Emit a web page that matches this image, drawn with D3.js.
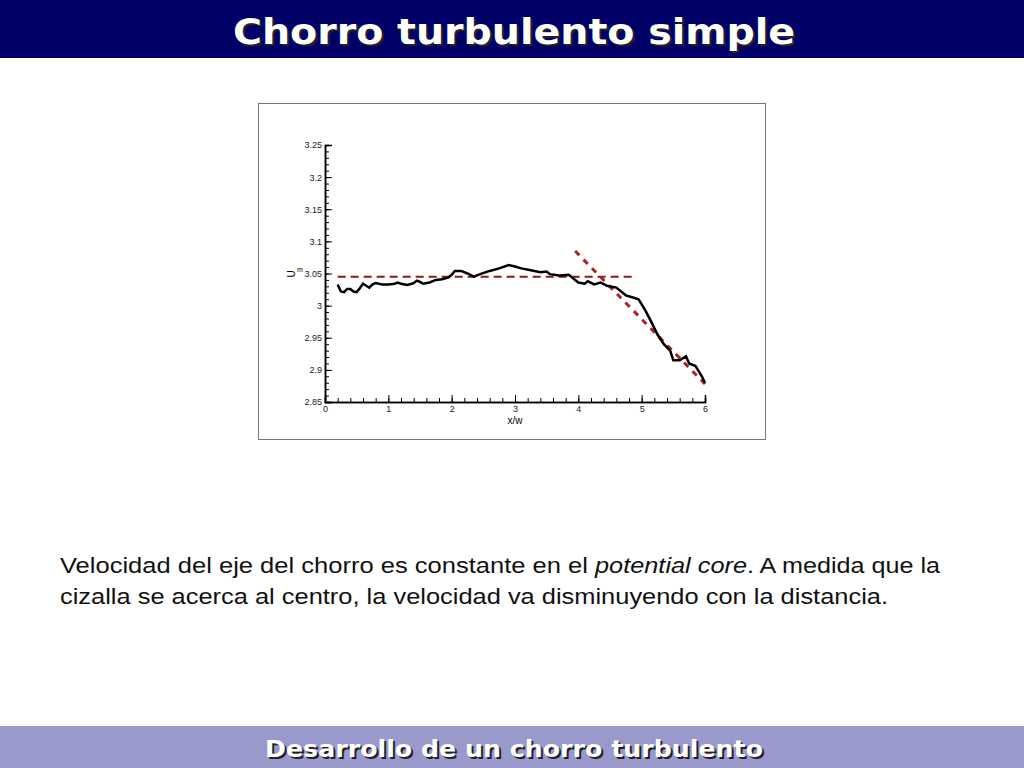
<!DOCTYPE html><html><head><meta charset="utf-8"><script src="https://cdn.jsdelivr.net/npm/d3@7"></script>
<style>body{margin:0;background:#fff}svg{display:block}</style></head><body><svg id="c" width="1024" height="768"></svg><script>
const xs=[0.2,0.25,0.3,0.35,0.4,0.45,0.5,0.55,0.6,0.65,0.7,0.75,0.8,0.9,1.0,1.1,1.15,1.2,1.3,1.4,1.45,1.5,1.55,1.65,1.75,1.85,1.95,2.0,2.05,2.15,2.25,2.35,2.45,2.6,2.75,2.9,3.0,3.1,3.25,3.4,3.5,3.55,3.7,3.85,3.95,4.0,4.1,4.15,4.25,4.35,4.45,4.6,4.75,4.85,4.95,5.05,5.15,5.25,5.35,5.45,5.5,5.6,5.7,5.75,5.85,5.95,6.0];
const um=[3.033,3.022,3.021,3.026,3.026,3.022,3.021,3.027,3.034,3.031,3.028,3.033,3.035,3.033,3.033,3.034,3.036,3.034,3.032,3.035,3.039,3.037,3.034,3.036,3.040,3.041,3.044,3.048,3.054,3.054,3.050,3.045,3.049,3.054,3.058,3.063,3.061,3.058,3.055,3.052,3.053,3.049,3.047,3.048,3.040,3.036,3.034,3.038,3.033,3.036,3.031,3.028,3.016,3.013,3.010,2.994,2.975,2.955,2.940,2.930,2.915,2.915,2.921,2.910,2.906,2.890,2.880];
const coreLine=[[0.2,3.045],[4.9,3.045]];
const decayLine=[[3.95,3.085],[6.0,2.878]];
const xTicks=[0,1,2,3,4,5,6];
const yTicks=[2.85,2.9,2.95,3,3.05,3.1,3.15,3.2,3.25];
const svg=d3.select("#c");
svg.append("rect").attr("width",1024).attr("height",58).attr("fill","#000066");
const tt=(t,x,y,s,w)=>{[["#222",2],["#fff",0]].forEach(([f,o])=>svg.append("text").attr("x",x-w/2+o).attr("y",y+o).attr("textLength",w).attr("lengthAdjust","spacingAndGlyphs").attr("font-family","Verdana, DejaVu Sans").attr("font-weight","bold").attr("font-size",s).attr("fill",f).text(t));};
tt("Chorro turbulento simple",514,44,36,562);
svg.append("rect").attr("y",726).attr("width",1024).attr("height",42).attr("fill","#9999cc");
tt("Desarrollo de un chorro turbulento",514,757,23,498);
svg.append("rect").attr("x",258.5).attr("y",103.5).attr("width",507).attr("height",336).attr("fill","#fff").attr("stroke","#777");
const x=d3.scaleLinear().domain([0,6]).range([325,705]);
const y=d3.scaleLinear().domain([2.85,3.25]).range([402,145]);
const ax=svg.append("g").attr("transform","translate(0,402)");
ax.call(d3.axisBottom(x).tickValues(xTicks).tickFormat(d3.format("d")).tickSize(-7).tickPadding(4));
ax.append("g").call(d3.axisBottom(x).tickValues(d3.range(0,6.01,0.2)).tickFormat("").tickSize(-4));
const ay=svg.append("g").attr("transform","translate(325,0)");
ay.call(d3.axisLeft(y).tickValues(yTicks).tickFormat(d=>String(+d.toFixed(2))).tickSize(-7).tickPadding(3));
ay.append("g").call(d3.axisLeft(y).tickValues(d3.range(2.85,3.2501,0.01)).tickFormat("").tickSize(-4));
svg.selectAll(".domain").attr("stroke","#000").attr("stroke-width",1.5);
svg.selectAll(".tick text").attr("font-family","Liberation Sans").attr("font-size",9).attr("fill","#222");
svg.append("text").attr("x",515).attr("y",424).attr("text-anchor","middle").attr("font-family","Liberation Sans").attr("font-size",10).text("x/w");
svg.append("text").attr("transform","translate(295,274) rotate(-90)").attr("text-anchor","middle").attr("font-family","Liberation Sans").attr("font-size",10).text("U");
svg.append("text").attr("x",297).attr("y",272).attr("font-family","Liberation Sans").attr("font-size",7).text("m");
const ln=d3.line().x(d=>x(d[0])).y(d=>y(d[1]));
svg.append("path").attr("d",ln(coreLine)).attr("stroke","#8b1a1a").attr("stroke-width",2).attr("stroke-dasharray","8,5").attr("fill","none");
svg.append("path").attr("d",ln(decayLine)).attr("stroke","#b02020").attr("stroke-width",3).attr("stroke-dasharray","6,6").attr("fill","none");
svg.append("path").attr("d",ln(xs.map((v,i)=>[v,um[i]]))).attr("stroke","#000").attr("stroke-width",2.5).attr("fill","none");
const p=svg.append("text").attr("font-family","Liberation Sans, Arial").attr("font-size",22).attr("fill","#111");
const t1=p.append("tspan").attr("x",60).attr("y",573);
t1.append("tspan").attr("textLength",535).attr("lengthAdjust","spacingAndGlyphs").text("Velocidad del eje del chorro es constante en el ");
t1.append("tspan").attr("font-style","italic").attr("textLength",152).attr("lengthAdjust","spacingAndGlyphs").text("potential core");
t1.append("tspan").attr("textLength",193).attr("lengthAdjust","spacingAndGlyphs").text(". A medida que la");
p.append("tspan").attr("x",60).attr("y",604).attr("textLength",828).attr("lengthAdjust","spacingAndGlyphs").text("cizalla se acerca al centro, la velocidad va disminuyendo con la distancia.");
</script></body></html>
